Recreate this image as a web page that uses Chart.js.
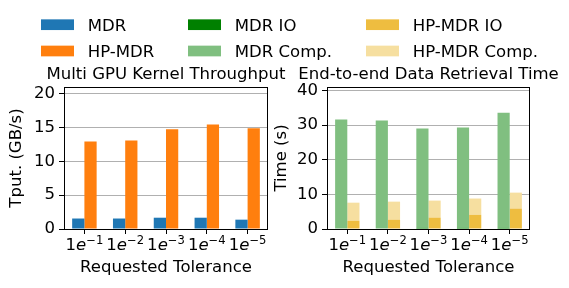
<!DOCTYPE html>
<html><head><meta charset="utf-8">
<script src="https://cdn.jsdelivr.net/npm/chart.js@4"></script>
<style>
html,body{margin:0;padding:0;background:#fff;overflow:hidden;}
#wrap{position:relative;width:569px;height:288px;}
canvas{position:absolute;left:0;top:0;}
</style></head><body>
<div id="wrap"><canvas id="c1" width="569" height="288"></canvas><canvas id="c2" width="569" height="288"></canvas></div>
<script>
// ---- data ----
const categories = ['1e-1', '1e-2', '1e-3', '1e-4', '1e-5'];
const mdrTput = [1.55, 1.55, 1.67, 1.67, 1.38];
const hpmdrTput = [12.95, 13.1, 14.75, 15.45, 14.9];
const mdrIO = [0.15, 0.15, 0.3, 0.3, 0.3];
const mdrComp = [31.45, 31.15, 28.7, 29.0, 33.3];
const hpmdrIO = [2.4, 2.7, 3.3, 4.1, 5.9];
const hpmdrComp = [5.2, 5.2, 4.9, 4.7, 4.6];
const tputTicks = [0, 5, 10, 15, 20];
const timeTicks = [0, 10, 20, 30, 40];

const FONT = '"DejaVu Sans", sans-serif';
const FS = 16.55;
Chart.defaults.color = '#000';
Chart.defaults.font.family = FONT;
Chart.defaults.font.size = FS;

const C = {
  mdr:'#1f77b4', hp:'#ff7f0e', mdrIO:'#008000', mdrComp:'#80bf80', hpIO:'#eebd40', hpComp:'#f6dfa0'
};

const framePlugin = {
  id:'frame',
  afterDatasetsDraw(chart){
    const {ctx, chartArea:{left,right,top,bottom}} = chart;
    ctx.save(); ctx.strokeStyle='#000'; ctx.lineWidth=1;
    ctx.strokeRect(Math.round(left)+0.5, Math.round(top)+0.5, Math.round(right-left)-1, Math.round(bottom-top));
    ctx.restore();
  }
};
const titlePlugin = {
  id:'axTitle',
  afterDraw(chart, args, opts){
    const {ctx, chartArea:{left,right}} = chart;
    ctx.save(); ctx.font = FS+'px '+FONT; ctx.fillStyle='#000';
    ctx.textAlign='center'; ctx.textBaseline='alphabetic';
    ctx.fillText(opts.text, (left+right)/2, opts.y);
    ctx.restore();
  }
};
// math-style tick labels: 1e^{-n} with italic e and raised exponent
const mathTickPlugin = {
  id:'mathTicks',
  afterDraw(chart){
    const {ctx} = chart;
    const sx = chart.scales.x;
    const yBase = chart.chartArea.bottom + 21;
    const fN = FS+'px '+FONT, fI = 'italic '+FS+'px '+FONT, fS = (FS*0.7)+'px '+FONT;
    ctx.save(); ctx.fillStyle='#000'; ctx.textBaseline='alphabetic'; ctx.textAlign='left';
    sx.ticks.forEach((t,i)=>{
      const lab = String(chart.data.labels[i]);
      const [m, e] = lab.split('e');
      const exp = e.replace('-', '\u2212');
      const parts = [[m,fN,0],['e',fI,0],[exp,fS,-5.7]];
      let w = 0;
      parts.forEach(p=>{ ctx.font=p[1]; p.push(ctx.measureText(p[0]).width); w+=p[3]; });
      let x = sx.getPixelForTick(i) - w/2;
      parts.forEach(p=>{ ctx.font=p[1]; ctx.fillText(p[0], x, yBase+p[2]); x+=p[3]; });
    });
    ctx.restore();
  }
};

function opts(o){
  return {
    responsive:false, animation:false, devicePixelRatio:1,
    layout:{padding:{left:o.padL, right:o.padR, top:87, bottom:0}},
    plugins:{legend:{display:false}, tooltip:{enabled:false}, title:{display:false},
      axTitle:{text:o.title, y:78.8}},
    datasets:{bar:{categoryPercentage:0.6, barPercentage:1.0, borderWidth:0}},
    scales:{
      x:{type:'category', stacked:o.stacked, offset:true,
        afterFit(s){ s.height = 59; },
        grid:{display:true, drawOnChartArea:false, drawTicks:true, tickLength:5, tickColor:'#000', offset:false},
        border:{display:false},
        ticks:{padding:2, maxRotation:0, autoSkip:false, color:'rgba(0,0,0,0)', font:{size:FS}},
        title:{display:true, text:'Requested Tolerance', padding:{top:0,bottom:10.5}, font:{size:FS}}
      },
      y:{type:'linear', stacked:o.stacked, min:0, max:o.max,
        afterFit(s){ s.width = 64; },
        afterBuildTicks(s){ s.ticks = o.ticks.map(v=>({value:v})); },
        grid:{color:'#b0b0b0', lineWidth:1, drawTicks:true, tickLength:5, tickColor:'#000'},
        border:{display:false},
        ticks:{padding:4, font:{size:FS}},
        title:{display:true, text:o.yTitle, padding:{top:o.yPad,bottom:0}, font:{size:FS}}
      }
    }
  };
}

new Chart(document.getElementById('c1'), {
  type:'bar',
  data:{labels:categories, datasets:[
    {label:'MDR', data:mdrTput, backgroundColor:C.mdr},
    {label:'HP-MDR', data:hpmdrTput, backgroundColor:C.hp}
  ]},
  options:opts({padL:0, padR:569-268, title:'Multi GPU Kernel Throughput', stacked:false, max:21, ticks:tputTicks, yTitle:'Tput. (GB/s)', yPad:7.0}),
  plugins:[framePlugin, titlePlugin, mathTickPlugin]
});

const legendItems = [
  ['MDR', C.mdr], ['HP-MDR', C.hp], ['MDR IO', C.mdrIO], ['MDR Comp.', C.mdrComp], ['HP-MDR IO', C.hpIO], ['HP-MDR Comp.', C.hpComp]
];
const legendPlugin = {
  id:'figLegend',
  afterDraw(chart){
    const ctx = chart.ctx;
    const colX = [41, 188, 366], rowY = [24.7, 51];
    ctx.save(); ctx.font = FS+'px '+FONT; ctx.textBaseline='alphabetic'; ctx.textAlign='left';
    legendItems.forEach((it,i)=>{
      const cx = colX[Math.floor(i/2)], cy = rowY[i%2];
      ctx.fillStyle = it[1]; ctx.fillRect(cx, cy-5.35, 33, 10.7);
      ctx.fillStyle = '#000'; ctx.fillText(it[0], cx+46.8, cy+6);
    });
    ctx.restore();
  }
};

new Chart(document.getElementById('c2'), {
  type:'bar',
  data:{labels:categories, datasets:[
    {label:'MDR IO', data:mdrIO, backgroundColor:C.mdrIO, stack:'mdr'},
    {label:'MDR Comp.', data:mdrComp, backgroundColor:C.mdrComp, stack:'mdr'},
    {label:'HP-MDR IO', data:hpmdrIO, backgroundColor:C.hpIO, stack:'hp'},
    {label:'HP-MDR Comp.', data:hpmdrComp, backgroundColor:C.hpComp, stack:'hp'}
  ]},
  options:opts({padL:327-64, padR:569-530, title:'End-to-end Data Retrieval Time', stacked:true, max:41, ticks:timeTicks, yTitle:'Time (s)', yPad:8.7}),
  plugins:[framePlugin, titlePlugin, mathTickPlugin, legendPlugin]
});
</script>
</body></html>
